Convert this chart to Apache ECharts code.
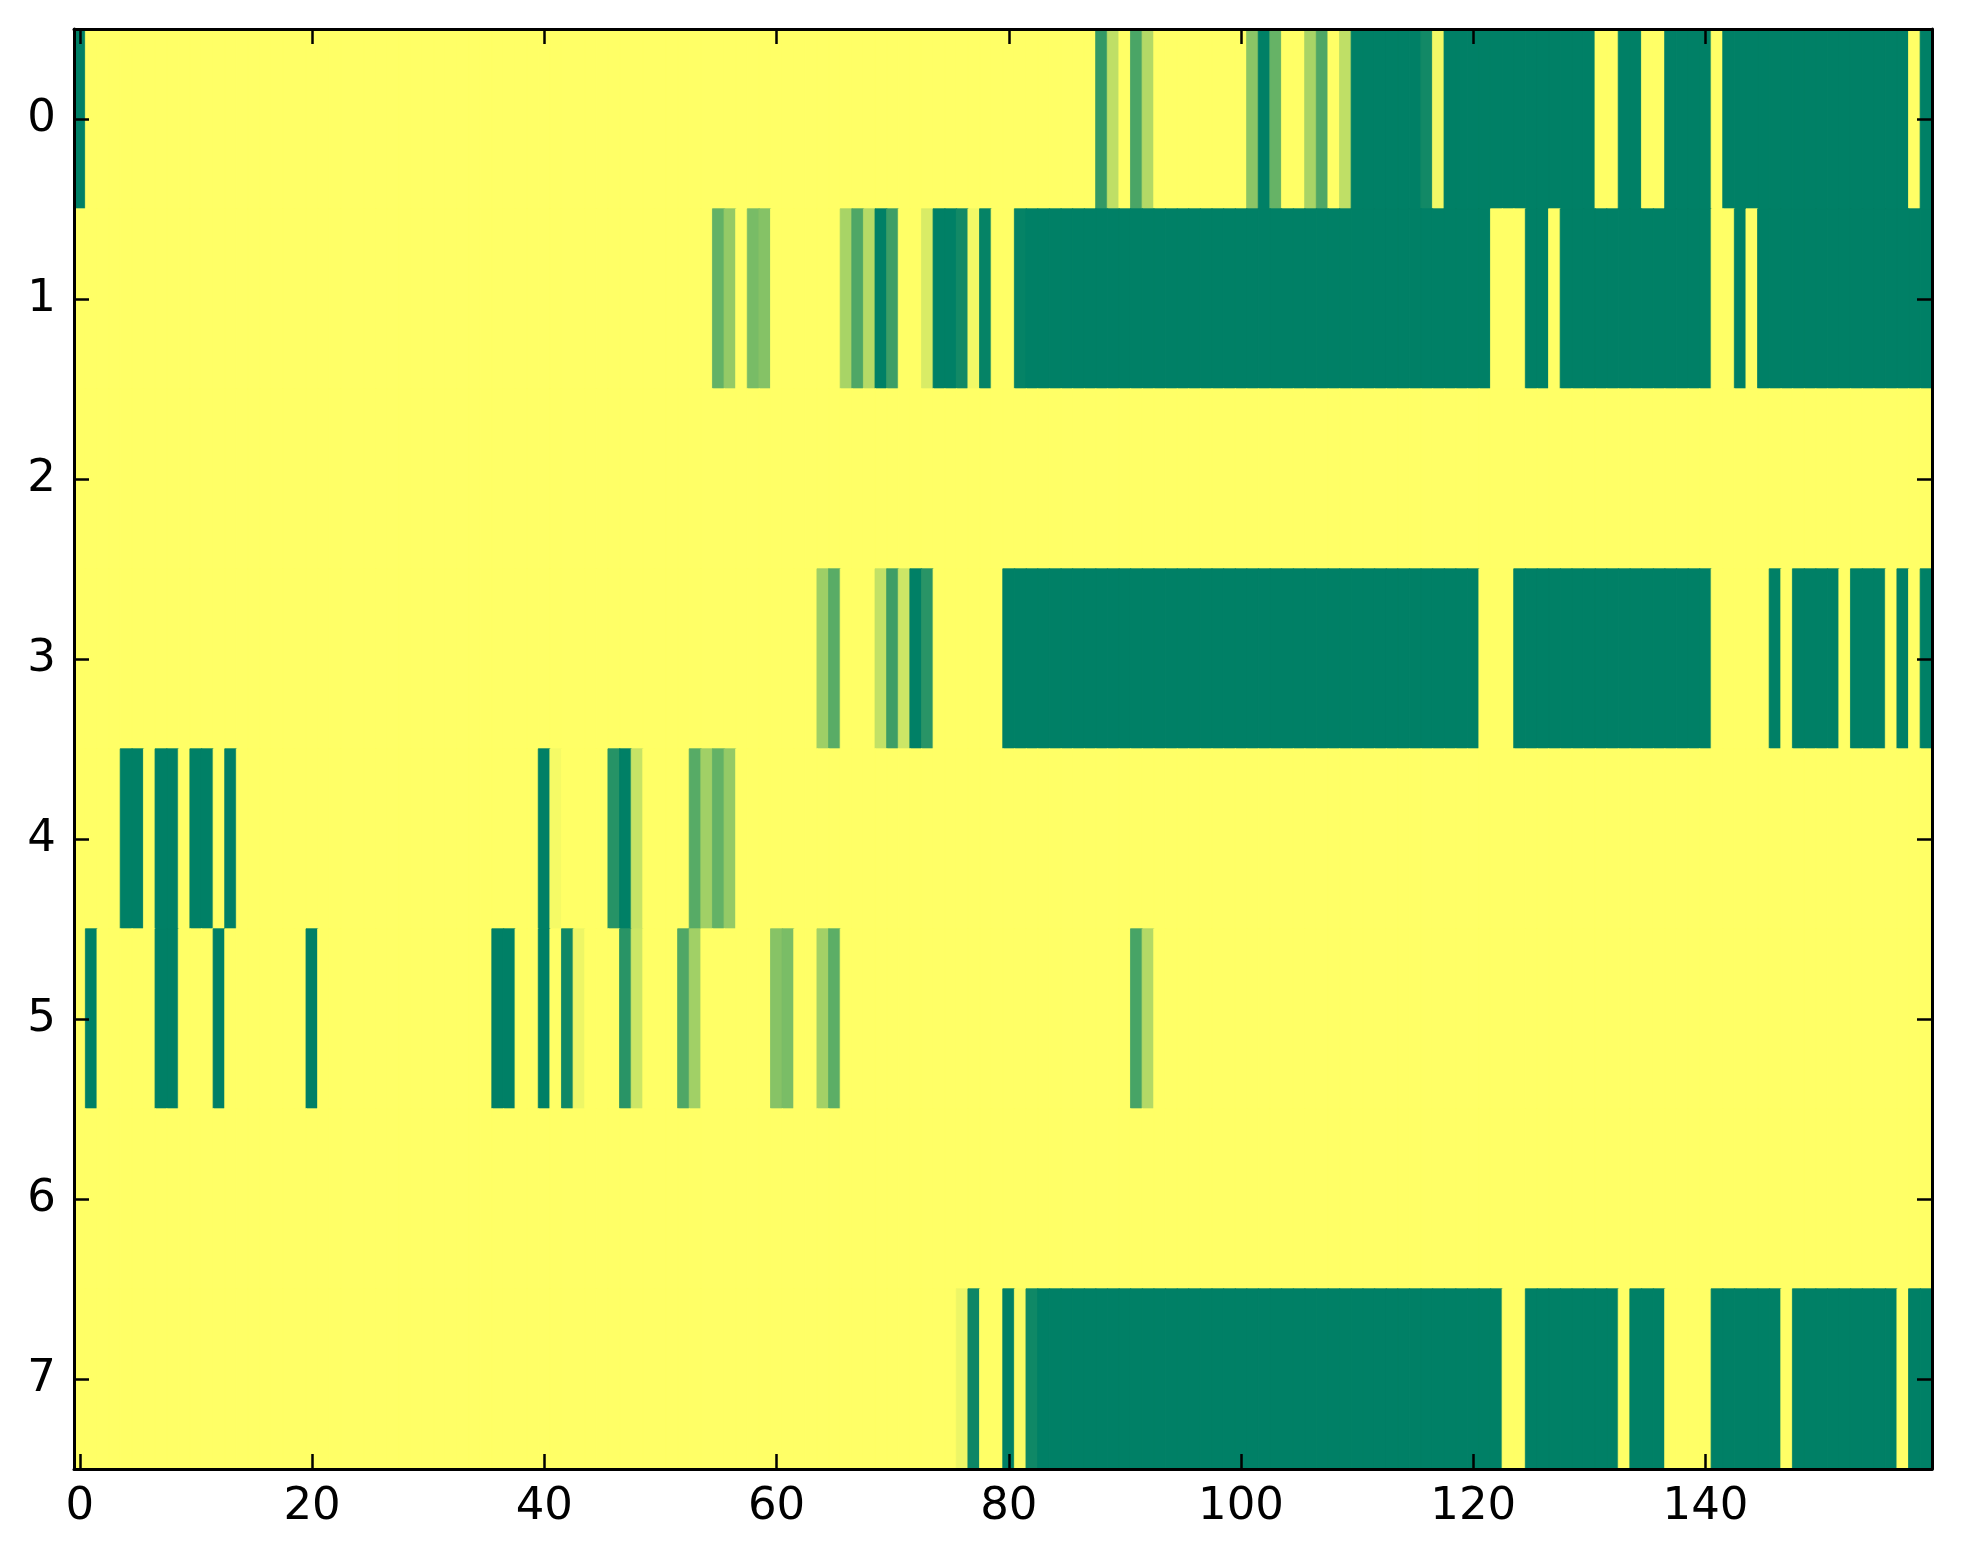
<!DOCTYPE html>
<html><head><meta charset="utf-8">
<script src="https://cdn.jsdelivr.net/npm/echarts@6/dist/echarts.min.js"></script>
<style>html,body{margin:0;padding:0;background:#fff}#c{width:1963px;height:1564px}</style>
</head><body><div id="c"></div>
<script>
// Row labels (y axis, top to bottom)
const rowLabels = ['0','1','2','3','4','5','6','7'];
// x tick label step
const xTickStep = 20;

// Cell values per row, columns 0..159 (0 = yellow, 1 = dark green)
const row0 = [
1,0,0,0,0,0,0,0,0,0, 0,0,0,0,0,0,0,0,0,0,
0,0,0,0,0,0,0,0,0,0, 0,0,0,0,0,0,0,0,0,0,
0,0,0,0,0,0,0,0,0,0, 0,0,0,0,0,0,0,0,0,0,
0,0,0,0,0,0,0,0,0,0, 0,0,0,0,0,0,0,0,0,0,
0,0,0,0,0,0,0,0,0.80,0.25, 0,0.71,0.30,0,0,0,0,0,0,0,
0,0.46,1,0.60,0,0,0.34,0.69,0,0.25, 1,1,1,1,1,1,0.93,0.05,1,1,
1,1,1,1,1,1,1,1,1,1, 1,0,0,1,1,0,0,1,1,1,
1,0,1,1,1,1,1,1,1,1, 1,1,1,1,1,1,1,1,0,1
];
const row1 = [
0,0,0,0,0,0,0,0,0,0, 0,0,0,0,0,0,0,0,0,0,
0,0,0,0,0,0,0,0,0,0, 0,0,0,0,0,0,0,0,0,0,
0,0,0,0,0,0,0,0,0,0, 0,0,0,0,0,0.61,0.42,0,0.53,0.48,
0,0,0,0,0,0,0.34,0.69,0.29,1, 0.76,0,0,0.15,1,1,0.93,0.05,0.98,0,
0,0.98,1,1,1,1,1,1,1,1, 1,1,1,1,1,1,1,1,1,1,
1,1,1,1,1,1,1,1,1,1, 1,1,1,1,1,1,1,1,1,1,
1,1,0,0,0,1,1,0,1,1, 1,1,1,1,1,1,1,1,1,1,
1,0,0,1,0,1,1,1,1,1, 1,1,1,1,1,1,1,1,1,1
];
const row2 = [
0,0,0,0,0,0,0,0,0,0, 0,0,0,0,0,0,0,0,0,0,
0,0,0,0,0,0,0,0,0,0, 0,0,0,0,0,0,0,0,0,0,
0,0,0,0,0,0,0,0,0,0, 0,0,0,0,0,0,0,0,0,0,
0,0,0,0,0,0,0,0,0,0, 0,0,0,0,0,0,0,0,0,0,
0,0,0,0,0,0,0,0,0,0, 0,0,0,0,0,0,0,0,0,0,
0,0,0,0,0,0,0,0,0,0, 0,0,0,0,0,0,0,0,0,0,
0,0,0,0,0,0,0,0,0,0, 0,0,0,0,0,0,0,0,0,0,
0,0,0,0,0,0,0,0,0,0, 0,0,0,0,0,0,0,0,0,0
];
const row3 = [
0,0,0,0,0,0,0,0,0,0, 0,0,0,0,0,0,0,0,0,0,
0,0,0,0,0,0,0,0,0,0, 0,0,0,0,0,0,0,0,0,0,
0,0,0,0,0,0,0,0,0,0, 0,0,0,0,0,0,0,0,0,0,
0,0,0,0,0.38,0.65,0,0,0,0.24, 0.76,0.20,1,0.84,0,0,0,0,0,0,
1,1,1,1,1,1,1,1,1,1, 1,1,1,1,1,1,1,1,1,1,
1,1,1,1,1,1,1,1,1,1, 1,1,1,1,1,1,1,1,1,1,
1,0,0,0,1,1,1,1,1,1, 1,1,1,1,1,1,1,1,1,1,
1,0,0,0,0,0,1,0,1,1, 1,1,0,1,1,1,0,1,0,1
];
const row4 = [
0,0,0,0,1,1,0,1,1,0, 1,1,0,1,0,0,0,0,0,0,
0,0,0,0,0,0,0,0,0,0, 0,0,0,0,0,0,0,0,0,0,
1,0.04,0,0,0,0,0.85,1,0.22,0, 0,0,0,0.66,0.37,0.61,0.42,0,0,0,
0,0,0,0,0,0,0,0,0,0, 0,0,0,0,0,0,0,0,0,0,
0,0,0,0,0,0,0,0,0,0, 0,0,0,0,0,0,0,0,0,0,
0,0,0,0,0,0,0,0,0,0, 0,0,0,0,0,0,0,0,0,0,
0,0,0,0,0,0,0,0,0,0, 0,0,0,0,0,0,0,0,0,0,
0,0,0,0,0,0,0,0,0,0, 0,0,0,0,0,0,0,0,0,0
];
const row5 = [
0,1,0,0,0,0,0,1,1,0, 0,0,1,0,0,0,0,0,0,0,
1,0,0,0,0,0,0,0,0,0, 0,0,0,0,0,0,1,1,0,0,
1,0,0.94,0.07,0,0,0,0.84,0.20,0, 0,0,0.69,0.37,0,0,0,0,0,0,
0.47,0.52,0,0,0.36,0.64,0,0,0,0, 0,0,0,0,0,0,0,0,0,0,
0,0,0,0,0,0,0,0,0,0, 0,0.72,0.30,0,0,0,0,0,0,0,
0,0,0,0,0,0,0,0,0,0, 0,0,0,0,0,0,0,0,0,0,
0,0,0,0,0,0,0,0,0,0, 0,0,0,0,0,0,0,0,0,0,
0,0,0,0,0,0,0,0,0,0, 0,0,0,0,0,0,0,0,0,0
];
const row6 = [
0,0,0,0,0,0,0,0,0,0, 0,0,0,0,0,0,0,0,0,0,
0,0,0,0,0,0,0,0,0,0, 0,0,0,0,0,0,0,0,0,0,
0,0,0,0,0,0,0,0,0,0, 0,0,0,0,0,0,0,0,0,0,
0,0,0,0,0,0,0,0,0,0, 0,0,0,0,0,0,0,0,0,0,
0,0,0,0,0,0,0,0,0,0, 0,0,0,0,0,0,0,0,0,0,
0,0,0,0,0,0,0,0,0,0, 0,0,0,0,0,0,0,0,0,0,
0,0,0,0,0,0,0,0,0,0, 0,0,0,0,0,0,0,0,0,0,
0,0,0,0,0,0,0,0,0,0, 0,0,0,0,0,0,0,0,0,0
];
const row7 = [
0,0,0,0,0,0,0,0,0,0, 0,0,0,0,0,0,0,0,0,0,
0,0,0,0,0,0,0,0,0,0, 0,0,0,0,0,0,0,0,0,0,
0,0,0,0,0,0,0,0,0,0, 0,0,0,0,0,0,0,0,0,0,
0,0,0,0,0,0,0,0,0,0, 0,0,0,0,0,0,0.07,0.95,0,0,
1,0.02,0.94,1,1,1,1,1,1,1, 1,1,1,1,1,1,1,1,1,1,
1,1,1,1,1,1,1,1,1,1, 1,1,1,1,1,1,1,1,1,1,
1,1,1,0,0,1,1,1,1,1, 1,1,1,0,1,1,1,0,0,0,
0,1,1,1,1,1,1,0,1,1, 1,1,1,1,1,1,1,0,1,1
];

const rows = [row0, row1, row2, row3, row4, row5, row6, row7];
const columns = row0.map((_, i) => String(i));
const cmap = ['#ffff66', '#008066'];
const data = [];
rows.forEach((r, y) => r.forEach((v, x) => {
  // same-colour hairline border hides antialiasing seams between adjacent cells
  data.push({ value: [x, y, v], itemStyle: { borderColor: echarts.color.lerp(v, cmap), borderWidth: 0.8 } });
}));

const font = 'DejaVu Sans';
const xTickFn = (i) => i % xTickStep === 0;
const tickStyle = { color: '#000', width: 2.5 };
const lineStyle = { color: '#000', width: 3 };

const chart = echarts.init(document.getElementById('c'), null, { renderer: 'canvas' });
chart.setOption({
  animation: false,
  backgroundColor: '#ffffff',
  grid: { left: 74, top: 29, width: 1858, height: 1440, containLabel: false },
  xAxis: [
    { type: 'category', data: columns, position: 'bottom', z: 10,
      axisLine: { show: true, lineStyle: lineStyle },
      axisTick: { show: true, inside: true, alignWithLabel: true, interval: xTickFn, length: 15, lineStyle: tickStyle },
      axisLabel: { show: true, interval: xTickFn, fontSize: 45, fontFamily: font, color: '#000', margin: 16 },
      splitLine: { show: false } },
    { type: 'category', data: columns, position: 'top', z: 10,
      axisLine: { show: true, lineStyle: lineStyle },
      axisTick: { show: true, inside: true, alignWithLabel: true, interval: xTickFn, length: 15, lineStyle: tickStyle },
      axisLabel: { show: false }, splitLine: { show: false } }
  ],
  yAxis: [
    { type: 'category', data: rowLabels, inverse: true, position: 'left', z: 10,
      axisLine: { show: true, lineStyle: lineStyle },
      axisTick: { show: true, inside: true, alignWithLabel: true, length: 15, lineStyle: tickStyle },
      axisLabel: { show: true, fontSize: 45, fontFamily: font, color: '#000', margin: 18 },
      splitLine: { show: false } },
    { type: 'category', data: rowLabels, inverse: true, position: 'right', z: 10,
      axisLine: { show: true, lineStyle: lineStyle },
      axisTick: { show: true, inside: true, alignWithLabel: true, length: 15, lineStyle: tickStyle },
      axisLabel: { show: false }, splitLine: { show: false } }
  ],
  visualMap: { show: false, type: 'continuous', min: 0, max: 1, dimension: 2,
    inRange: { color: cmap } },
  series: [{
    type: 'heatmap', xAxisIndex: 0, yAxisIndex: 0, data: data,
    progressive: 0,
    emphasis: { disabled: true }
  }]
});
</script></body></html>
